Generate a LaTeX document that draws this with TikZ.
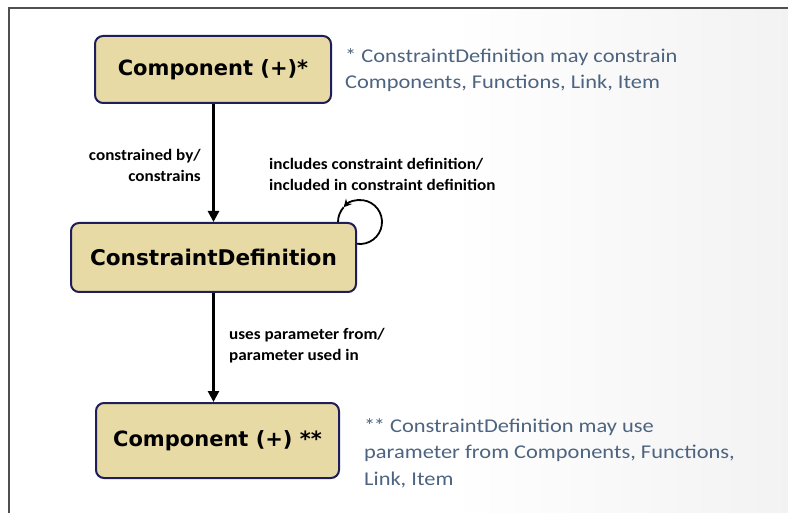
\documentclass[tikz,border=0pt]{standalone}
\usepackage{fontspec}
\setmainfont{Carlito}
\newfontfamily\boxfont{DejaVu Sans}
\newfontfamily\notefont[FakeStretch=1.15]{Carlito}
\newfontfamily\relfont[FakeStretch=1.07]{Carlito}
\usetikzlibrary{arrows.meta,calc}
\definecolor{boxfill}{HTML}{E8DAA4}
\definecolor{boxline}{HTML}{1E1E5A}
\definecolor{notecol}{HTML}{4D6480}
\definecolor{framecol}{HTML}{505050}
\tikzset{
  entity/.style={draw=boxline, fill=boxfill, line width=2pt, rounded corners=8pt,
    font=\boxfont\bfseries\fontsize{21}{25}\selectfont, inner sep=0pt},
  rel/.style={font=\relfont\bfseries\fontsize{16}{21}\selectfont, inner sep=0pt},
  note/.style={font=\notefont\fontsize{19.5}{26.5}\selectfont, text=notecol, inner sep=0pt, align=left},
  conn/.style={line width=2.6pt, -{Triangle[length=11pt,width=11pt]}},
  loopline/.style={line width=1.8pt}
}
\begin{document}
\begin{tikzpicture}[x=1pt,y=-1pt]
\useasboundingbox (0,0) rectangle (788,513);
\fill[white] (0,0) rectangle (788,513);
\shade[left color=white, right color=black!5, draw=none] (450,8) rectangle (788,513);
\draw[framecol, line width=1.3pt] (9,513) -- (9,8) -- (788,8);

\node[entity, minimum width=236pt, minimum height=67pt] (c1) at (213,69.5) {Component (+)*};
\node[entity, minimum width=285pt, minimum height=69pt, font=\boxfont\bfseries\fontsize{21.6}{25}\selectfont] (cd) at (213.5,257.5) {ConstraintDefinition};
\node[entity, minimum width=243pt, minimum height=75pt] (c2) at (217.5,440.5) {Component (+) **};

\draw[conn] (c1.south -| cd.north) -- (cd.north);
\draw[conn] (cd.south) -- (cd.south |- c2.north);

\coordinate (lc) at ($(cd.north east)+(3,0)$);
\draw[loopline, -{Stealth[length=8pt,width=8pt]}] ($(lc)+(98:22)$) arc[start angle=98, end angle=-138, radius=22];
\draw[loopline] ($(lc)+(-138:22)$) arc[start angle=-138, end angle=-180, radius=22];

\node[rel, anchor=east, align=right] (l1) at (201,165) {constrained by/\\constrains};
\node[rel, anchor=west, align=left] (l2) at (269,174) {includes constraint definition/\\included in constraint definition};
\node[rel, anchor=west, align=left] (l3) at (229,346) {uses parameter from/\\parameter used in};

\node[note, anchor=west] (n1) at (345,70) {* ConstraintDefinition may constrain\\Components, Functions, Link, Item};
\node[note, anchor=west] (n2) at (364,453) {*\kern-1.5pt* ConstraintDefinition may use\\parameter from Components, Functions,\\Link, Item};
\end{tikzpicture}
\end{document}
